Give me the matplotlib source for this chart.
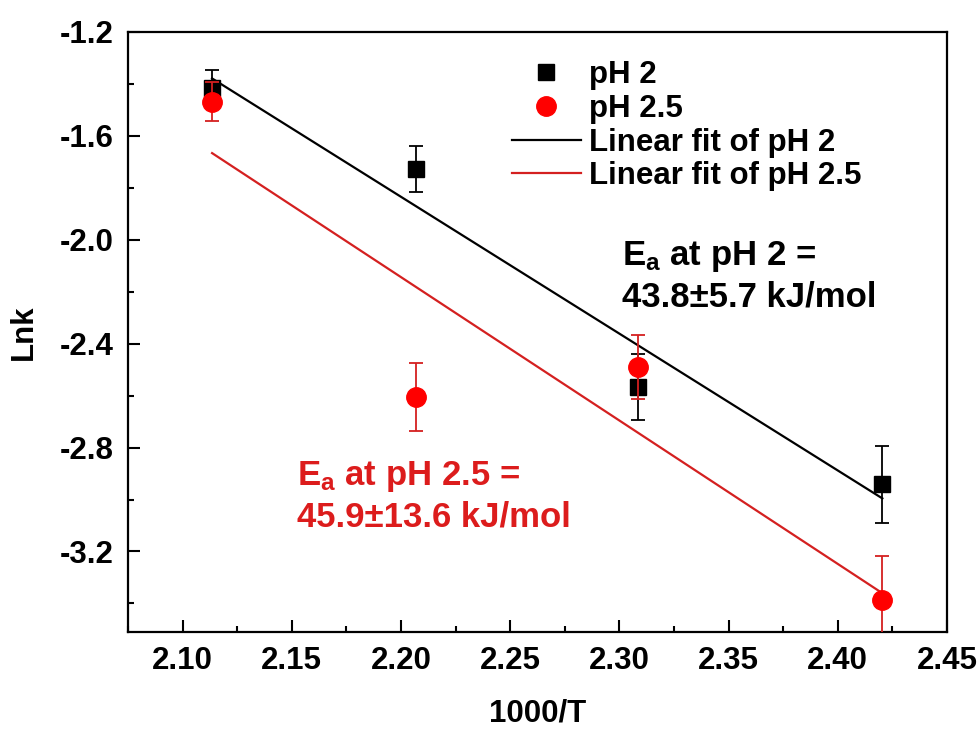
import numpy as np
import matplotlib
matplotlib.use("Agg")
import matplotlib.pyplot as plt
from matplotlib.ticker import MultipleLocator, FormatStrFormatter

plt.rcParams['font.family'] = ['Liberation Sans', 'DejaVu Sans']
plt.rcParams['font.weight'] = 'bold'
plt.rcParams['mathtext.fontset'] = 'custom'
plt.rcParams['mathtext.rm'] = 'Liberation Sans:bold'
plt.rcParams['mathtext.bf'] = 'Liberation Sans:bold'
plt.rcParams['mathtext.it'] = 'Liberation Sans:bold'

# Inverse temperature (1000/T, T in K): 200, 180, 160, 140 °C
inv_T = [2.1135, 2.2068, 2.3087, 2.4204]

# ln k with standard errors
lnk_ph2 = [-1.417, -1.728, -2.565, -2.942]
err_ph2 = [0.072, 0.088, 0.127, 0.148]
lnk_ph25 = [-1.468, -2.606, -2.490, -3.388]
err_ph25 = [0.075, 0.130, 0.124, 0.170]

# Activation energies (kJ/mol) from the Arrhenius fits
ea_ph2, ea_ph2_err = 43.8, 5.7
ea_ph25, ea_ph25_err = 45.9, 13.6
R = 8.314  # J/(mol K)

BLACK = '#000000'
RED_MARK = '#ff0000'
RED_LINE = '#d42020'
RED_TEXT = '#dc1c1c'
FS_TICK = 22.5
FS_LEG = 22.5
FS_NOTE = 25

fig = plt.figure(figsize=(9.79, 7.29), dpi=100)
ax = fig.add_axes([128 / 979, 1 - 632 / 729, (947 - 128) / 979, (632 - 32) / 729])


def arrhenius_line(x, y, ea):
    """Line of slope -Ea/R (per 1000/T) through the centroid of the data."""
    x = np.asarray(x)
    y = np.asarray(y)
    slope = -ea / R
    xs = np.array([x.min(), x.max()])
    return xs, y.mean() + slope * (xs - x.mean())


# pH 2 series
ax.errorbar(inv_T, lnk_ph2, yerr=err_ph2, fmt='none', ecolor=BLACK,
            elinewidth=1.3, capsize=4.8, capthick=1.3, zorder=3)
ax.plot(inv_T, lnk_ph2, 's', color=BLACK, markersize=12, zorder=4,
        label='pH 2')

# pH 2.5 series
ax.errorbar(inv_T, lnk_ph25, yerr=err_ph25, fmt='none', ecolor=RED_LINE,
            elinewidth=1.3, capsize=4.8, capthick=1.3, zorder=5)
ax.plot(inv_T, lnk_ph25, 'o', color=RED_MARK, markersize=14, zorder=6,
        label='pH 2.5')

# Linear fits
fx, fy = arrhenius_line(inv_T, lnk_ph2, ea_ph2)
ax.plot(fx, fy, color=BLACK, lw=1.6, zorder=2, label='Linear fit of pH 2')
fx, fy = arrhenius_line(inv_T, lnk_ph25, ea_ph25)
ax.plot(fx, fy, color=RED_LINE, lw=1.6, zorder=2, label='Linear fit of pH 2.5')

ax.set_xlim(2.075, 2.45)
ax.set_ylim(-3.51, -1.2)
ax.xaxis.set_major_locator(MultipleLocator(0.05))
ax.xaxis.set_minor_locator(MultipleLocator(0.025))
ax.yaxis.set_major_locator(MultipleLocator(0.4))
ax.yaxis.set_minor_locator(MultipleLocator(0.2))
ax.xaxis.set_major_formatter(FormatStrFormatter('%.2f'))
ax.yaxis.set_major_formatter(FormatStrFormatter('%.1f'))

ax.tick_params(which='both', direction='in', top=False, right=False,
               width=1.5, labelsize=FS_TICK, pad=10)
ax.tick_params(which='major', length=8.5)
ax.tick_params(which='minor', length=4.5)
for sp in ax.spines.values():
    sp.set_linewidth(1.6)

ax.set_xlabel('1000/T', fontsize=FS_TICK, fontweight='bold', labelpad=16)
ax.set_ylabel('Lnk', fontsize=FS_TICK, fontweight='bold', labelpad=15)

leg = ax.legend(loc='upper left', bbox_to_anchor=(512 / 979, 1 - 60 / 729),
                bbox_transform=fig.transFigure, frameon=False, fontsize=FS_LEG,
                borderpad=0, borderaxespad=0, handlelength=2.2,
                handletextpad=0.25, labelspacing=0.12)

ax.text(0.603, 0.5925,
        'E$_{\\mathrm{a}}$ at pH 2 =\n'
        f'{ea_ph2:.1f}\u00b1{ea_ph2_err:.1f} kJ/mol',
        transform=ax.transAxes, fontsize=FS_NOTE, fontweight='bold', color=BLACK,
        ha='left', va='center', linespacing=1.25)
ax.text(0.206, 0.226,
        'E$_{\\mathrm{a}}$ at pH 2.5 =\n'
        f'{ea_ph25:.1f}\u00b1{ea_ph25_err:.1f} kJ/mol',
        transform=ax.transAxes, fontsize=FS_NOTE, fontweight='bold', color=RED_TEXT,
        ha='left', va='center', linespacing=1.25)

fig.savefig('out.png', dpi=100)
